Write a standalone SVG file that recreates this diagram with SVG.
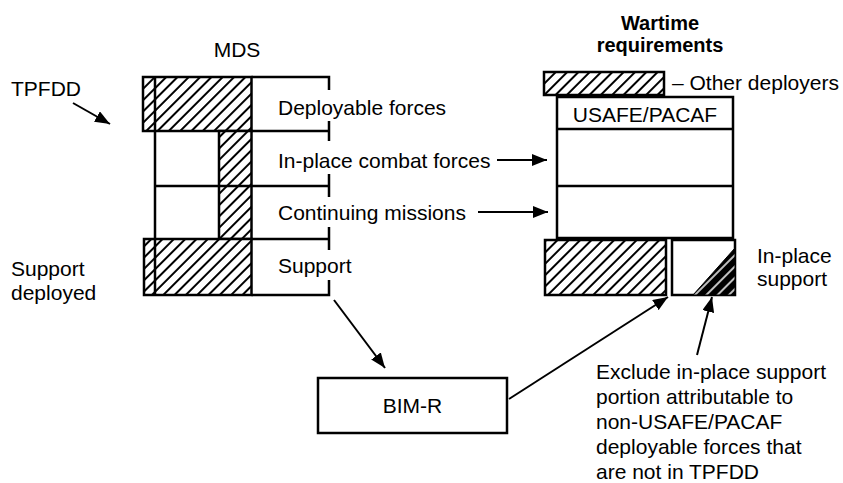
<svg xmlns="http://www.w3.org/2000/svg" width="843" height="483" viewBox="0 0 843 483">
<defs>
<pattern id="hatch" width="8" height="8" patternUnits="userSpaceOnUse" patternTransform="rotate(45)">
<rect width="8" height="8" fill="#fff"/>
<line x1="4" y1="-1" x2="4" y2="9" stroke="#000" stroke-width="2"/>
</pattern>
<pattern id="hatchW" width="8" height="8" patternUnits="userSpaceOnUse" patternTransform="rotate(45)">
<rect width="8" height="8" fill="#000"/>
<line x1="4" y1="-1" x2="4" y2="9" stroke="#fff" stroke-width="1.5"/>
</pattern>
<marker id="ah" markerUnits="userSpaceOnUse" markerWidth="15" markerHeight="12" refX="15" refY="6" orient="auto">
<path d="M0,0 L15,6 L0,12 z" fill="#000"/>
</marker>
</defs>
<style>
text{font-family:"Liberation Sans",Arial,sans-serif;font-size:21px;fill:#000}
.b{font-weight:bold;font-size:20px}
.s{stroke:#000;stroke-width:2.5;fill:none}
.h{fill:url(#hatch);stroke:#000;stroke-width:2.5}
.w{fill:#fff;stroke:#000;stroke-width:2.5}
.c{stroke:#000;stroke-width:2;fill:none;marker-end:url(#ah)}
</style>
<rect width="843" height="483" fill="#fff"/>

<g id="labels">
<text x="11" y="96">TPFDD</text>
<text x="237" y="57" text-anchor="middle">MDS</text>
<text x="11" y="276">Support</text>
<text x="11" y="300">deployed</text>
<text class="b" x="660" y="30" text-anchor="middle">Wartime</text>
<text class="b" x="660" y="52" text-anchor="middle">requirements</text>
</g>

<g id="mds">
<rect class="h" x="143" y="77" width="108.5" height="54"/>
<line class="s" x1="155" y1="77" x2="155" y2="131"/>
<polyline class="s" points="251.5,77 329,77 329,90"/>
<line class="s" x1="251.5" y1="131" x2="329" y2="131"/>
<line class="s" x1="329" y1="121" x2="329" y2="141"/>
<line class="s" x1="155" y1="131" x2="155" y2="239"/>
<rect class="h" x="219" y="131" width="32.5" height="108"/>
<line class="s" x1="155" y1="186" x2="329" y2="186"/>
<line class="s" x1="329" y1="174" x2="329" y2="197"/>
<line class="s" x1="251.5" y1="239" x2="329" y2="239"/>
<line class="s" x1="329" y1="227" x2="329" y2="250"/>
<rect class="h" x="144" y="239" width="107.5" height="56"/>
<line class="s" x1="155" y1="239" x2="155" y2="295"/>
<polyline class="s" points="251.5,295 329,295 329,280"/>
<text x="278" y="115">Deployable forces</text>
<text x="278" y="168">In-place combat forces</text>
<text x="278" y="220">Continuing missions</text>
<text x="278" y="273">Support</text>
</g>

<g id="wartime">
<rect class="h" x="544" y="72" width="120" height="23"/>
<text x="672" y="90">– Other deployers</text>
<rect class="w" x="557" y="97" width="176" height="141"/>
<line class="s" x1="557" y1="129" x2="733" y2="129"/>
<line class="s" x1="557" y1="186" x2="733" y2="186"/>
<text x="645" y="122" text-anchor="middle">USAFE/PACAF</text>
<rect class="h" x="545" y="240" width="121" height="55"/>
<rect class="w" x="672" y="240" width="63" height="55"/>
<polygon points="735,248 735,295 693,295" fill="url(#hatchW)" stroke="#000" stroke-width="1"/>
<text x="757" y="263">In-place</text>
<text x="757" y="286">support</text>
</g>

<g id="bimr">
<rect class="s" x="318" y="378" width="189" height="55"/>
<text x="412.5" y="413" text-anchor="middle">BIM-R</text>
</g>

<g id="note">
<text x="596" y="379">Exclude in-place support</text>
<text x="596" y="404">portion attributable to</text>
<text x="596" y="429">non-USAFE/PACAF</text>
<text x="596" y="454">deployable forces that</text>
<text x="596" y="479">are not in TPFDD</text>
</g>

<g id="connectors">
<line class="c" x1="73" y1="103" x2="110" y2="124"/>
<line class="c" x1="497" y1="160" x2="547" y2="160"/>
<line class="c" x1="478" y1="212" x2="548" y2="212"/>
<line class="c" x1="334" y1="300" x2="385" y2="368"/>
<line class="c" x1="509" y1="399" x2="668" y2="297"/>
<line class="c" x1="697" y1="355" x2="712" y2="297"/>
</g>
</svg>
